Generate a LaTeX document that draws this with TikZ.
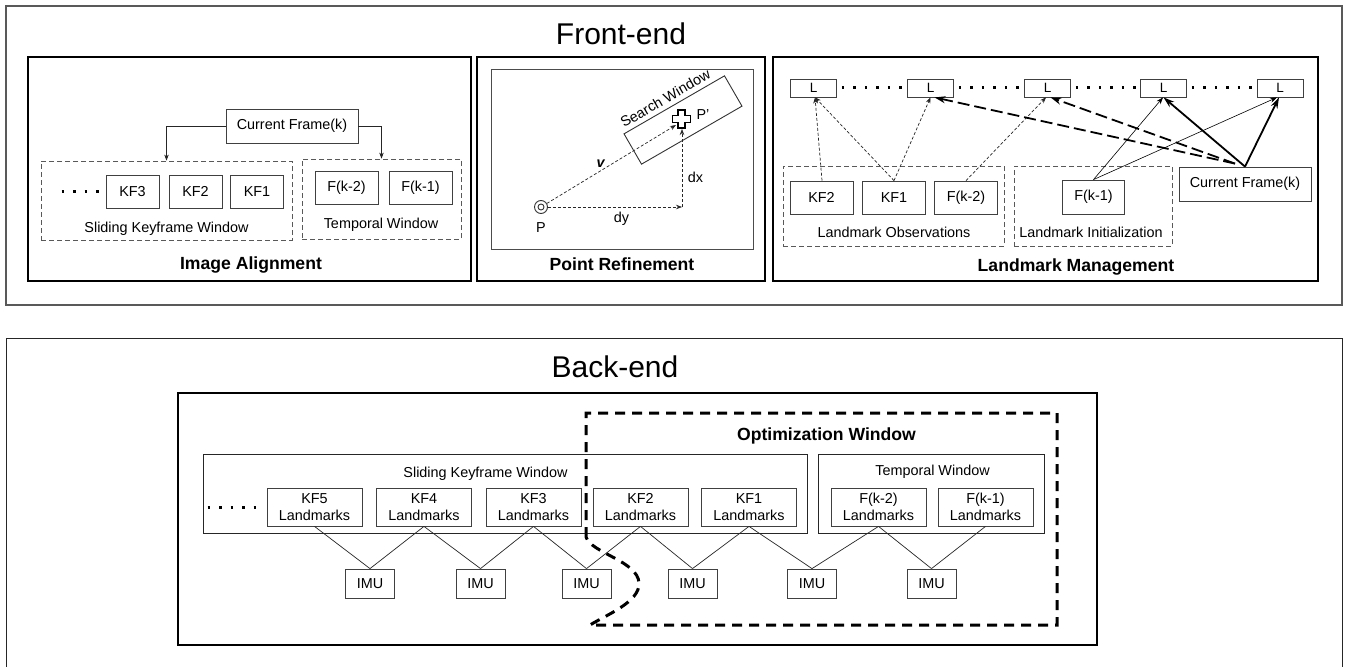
\documentclass[tikz,border=0pt]{standalone}
\usepackage{fontspec}
\setmainfont{Liberation Sans}
\usetikzlibrary{arrows.meta,calc}
\newcommand\myN{\fontsize{14.4}{17.5}\selectfont}
\newcommand\myS{\fontsize{13.5}{15}\selectfont}
\newcommand\myBig{\fontsize{30}{34}\selectfont}
\newcommand\myBold{\fontsize{17.6}{20}\selectfont\bfseries}
\begin{document}
\begin{tikzpicture}[x=1pt,y=-1pt,
  box/.style={draw=black!75, line width=0.8pt, inner sep=0pt, font=\myN, align=center},
  dbox/.style={draw=black!65, line width=0.8pt, dash pattern=on 5pt off 3pt, inner sep=0pt},
  pbox/.style={draw=black!70, line width=0.9pt, inner sep=0pt},
  panel/.style={draw=black, line width=2.2pt},
  frame/.style={draw=black!65, line width=1.3pt},
  lbl/.style={font=\myN, anchor=base, inner sep=0pt},
  ttl/.style={font=\myBold, anchor=base, inner sep=0pt},
  big/.style={font=\myBig, anchor=base, inner sep=0pt},
  arr/.style={-{Stealth[length=6pt,width=4.5pt]}, line width=0.7pt, draw=black!85},
  darr/.style={-{Stealth[length=6pt,width=4.5pt]}, line width=0.7pt, draw=black!85, dash pattern=on 3pt off 2pt},
  tdarr/.style={-{Stealth[length=11pt,width=7pt]}, line width=1.8pt, dash pattern=on 12pt off 5pt},
  tsarr/.style={-{Stealth[length=11pt,width=7pt]}, line width=1.8pt},
  thinarr/.style={-{Stealth[length=7pt,width=5pt]}, line width=0.6pt},
  dots/.style={line width=3pt, dash pattern=on 2.5pt off 9pt},
  link/.style={line width=0.7pt, draw=black!85},
  optwin/.style={line width=3pt, dash pattern=on 10pt off 7pt},
]
\useasboundingbox (0,0) rectangle (1348,666);
\fill[white] (0,0) rectangle (1348,666);

% ================= FRONT-END =================
\draw[frame] (6,6) rectangle (1342,305);
\node[big] (fe) at (621,45) {Front-end};

% ---- Image Alignment ----
\draw[panel] (28,57) rectangle (471,281);
\node[box, minimum width=132pt, minimum height=34pt] (iacf) at (292,126) {Current Frame(k)};
\node[dbox, minimum width=251pt, minimum height=79pt] (iaskw) at (166.5,200.5) {};
\node[dbox, minimum width=159pt, minimum height=80pt] (iatw) at (381.5,199) {};
\node[box, minimum width=53pt, minimum height=33pt] (ia3) at (132.5,191.5) {KF3};
\node[box, minimum width=53pt, minimum height=33pt] (ia2) at (195.5,191.5) {KF2};
\node[box, minimum width=53pt, minimum height=33pt] (ia1) at (257,191.5) {KF1};
\node[box, minimum width=63pt, minimum height=33pt] (iafk2) at (346.5,187.5) {F(k-2)};
\node[box, minimum width=63pt, minimum height=33pt] (iafk1) at (420.5,187.5) {F(k-1)};
\draw[dots] ([xshift=-44pt]ia3.west) -- ([xshift=-4pt]ia3.west);
\node[lbl] (iaskwl) at (166.5,232) {Sliding Keyframe Window};
\node[lbl] (iatwl) at (381,228) {Temporal Window};
\draw[arr] (iacf.west) -| (iaskw.north);
\draw[arr] (iacf.east) -| (iatw.north);
\node[ttl] (iat) at (251,269.5) {Image Alignment};

% ---- Point Refinement ----
\draw[panel] (477,57) rectangle (765,281);
\draw[pbox] (491,69) rectangle (753,249);
\node[draw=black!80, line width=0.9pt, rotate=30, minimum width=116pt, minimum height=35pt, inner sep=0pt] (sw) at (683,120) {};
\node[font=\myN, rotate=30, inner sep=0pt, anchor=south] (swl) at ([xshift=-6pt,yshift=1.5pt]sw.north) {Search Window};
\node[circle, draw=black!80, line width=0.9pt, minimum size=13pt, inner sep=0pt] (P) at (541,207) {};
\draw[black!80, line width=0.9pt] (P.center) circle[radius=3pt];
\coordinate (corner) at (682,207);
\coordinate (dxend) at (682,129);
\coordinate (vend) at (676,125);
\draw[darr] (P) -- (corner);
\draw[darr] (corner) -- (dxend);
\draw[darr] (P) -- (vend);
\draw[fill=white, line width=1.2pt, shift={(681.5,119)}]
  (-3.5,-9) -- (3.5,-9) -- (3.5,-3.5) -- (9,-3.5) -- (9,3.5) -- (3.5,3.5) -- (3.5,9)
  -- (-3.5,9) -- (-3.5,3.5) -- (-9,3.5) -- (-9,-3.5) -- (-3.5,-3.5) -- cycle;
\node[lbl] (Pl) at (541,232) {P};
\node[lbl] (Ppl) at (703,120) {P'};
\node[lbl] (dyl) at (621.5,222.5) {dy};
\node[lbl] (dxl) at (695.5,182) {dx};
\node[lbl, font=\myN\bfseries\itshape] (vl) at (600.5,167) {v};
\node[ttl] (prt) at (622,270.5) {Point Refinement};

% ---- Landmark Management ----
\draw[panel] (773,57) rectangle (1318,281);
\foreach \n/\x in {1/813.5,2/930.5,3/1047.5,4/1163.5,5/1280}
  \node[box, font=\myS, minimum width=46pt, minimum height=18pt] (l\n) at (\x,88) {L};
\draw[dots, shorten <=5pt, shorten >=3pt] (l1.east) -- (l2.west);
\draw[dots, shorten <=5pt, shorten >=3pt] (l2.east) -- (l3.west);
\draw[dots, shorten <=5pt, shorten >=3pt] (l3.east) -- (l4.west);
\draw[dots, shorten <=5pt, shorten >=3pt] (l4.east) -- (l5.west);
\node[dbox, minimum width=221pt, minimum height=80pt] (lobs) at (893.5,206) {};
\node[dbox, minimum width=158pt, minimum height=80pt] (linit) at (1093,206) {};
\node[box, minimum width=63pt, minimum height=33pt] (lkf2) at (821.5,197.5) {KF2};
\node[box, minimum width=63pt, minimum height=33pt] (lkf1) at (894,197.5) {KF1};
\node[box, minimum width=63pt, minimum height=33pt] (lfk2) at (966,197.5) {F(k-2)};
\node[box, minimum width=62pt, minimum height=34pt] (lfk1) at (1093.5,197) {F(k-1)};
\node[box, minimum width=132pt, minimum height=34pt] (lcf) at (1245,184) {Current Frame(k)};
\node[lbl] (lobsl) at (894,237.5) {Landmark Observations};
\node[lbl] (linitl) at (1091,237.5) {Landmark Initialization};
\node[ttl] (lmt) at (1076,271) {Landmark Management};
% thin dashed observations
\draw[darr] ([xshift=0.5pt]lkf2.north) -- ([xshift=1.5pt]l1.south);
\draw[darr] (lkf1.north) -- ([xshift=1.5pt]l1.south);
\draw[darr] (lkf1.north) -- (l2.south);
\draw[darr] (lfk2.north) -- ([xshift=-1.5pt]l3.south);
% thin solid initialisation
\draw[thinarr] (lfk1.north) -- ([xshift=-0.5pt]l4.south);
\draw[thinarr] (lfk1.north) -- ([xshift=-3pt]l5.south);
% thick from current frame
\coordinate (cfd) at ($(lcf.north)+(-10,-3)$);
\draw[tdarr] (cfd) -- ([xshift=4pt]l2.south);
\draw[tdarr] (cfd) -- ([xshift=3pt]l3.south);
\draw[tsarr] (lcf.north) -- (l4.south);
\draw[tsarr] (lcf.north) -- ([xshift=-1pt]l5.south);

% ================= BACK-END =================
\draw[black!85, line width=1pt] (6,670) -- (6,338) -- (1342,338) -- (1342,670);
\node[big] (be) at (615,377) {Back-end};
\draw[panel] (178,393) rectangle (1097,645);
\node[draw=black!85, line width=0.8pt, minimum width=604pt, minimum height=79pt, inner sep=0pt] (bskw) at (505,493.5) {};
\node[draw=black!85, line width=0.8pt, minimum width=226pt, minimum height=79pt, inner sep=0pt] (btw) at (931,493.5) {};
\node[lbl] (bskwl) at (485.5,477) {Sliding Keyframe Window};
\node[lbl] (btwl) at (932.5,475) {Temporal Window};
\foreach \n/\x/\t in {k5/314.5/KF5, k4/424/KF4, k3/533.5/KF3, k2/640.5/KF2, k1/749/KF1, f2/878.5/F(k-2), f1/985.5/F(k-1)}
  \node[box, minimum width=95pt, minimum height=38pt] (b\n) at (\x,507) {\t\\Landmarks};
\foreach \n/\x in {1/370,2/480.5,3/586.5,4/692.5,5/812,6/931.5}
  \node[box, minimum width=49pt, minimum height=29pt] (imu\n) at (\x,583.5) {IMU};
\draw[dots] ([xshift=-59pt]bk5.west) -- ([xshift=-8pt]bk5.west);
\draw[link] (bk5.south) -- (imu1.north);
\draw[link] (bk4.south) -- (imu1.north);
\draw[link] (bk4.south) -- (imu2.north);
\draw[link] (bk3.south) -- (imu2.north);
\draw[link] (bk3.south) -- (imu3.north);
\draw[link] (bk2.south) -- (imu3.north);
\draw[link] (bk2.south) -- (imu4.north);
\draw[link] (bk1.south) -- (imu4.north);
\draw[link] (bk1.south) -- (imu5.north);
\draw[link] (bf2.south) -- (imu5.north);
\draw[link] (bf2.south) -- (imu6.north);
\draw[link] (bf1.south) -- (imu6.north);
% optimization window
\draw[optwin] (586,537) -- (586,413) -- (1057,413) -- (1057,625) -- (590,625)
  .. controls (606,615) and (640,602) .. (639,583)
  .. controls (638,561) and (591,553) .. (586,537);
\node[ttl] (owl) at (826.5,440) {Optimization Window};
\end{tikzpicture}
\end{document}
